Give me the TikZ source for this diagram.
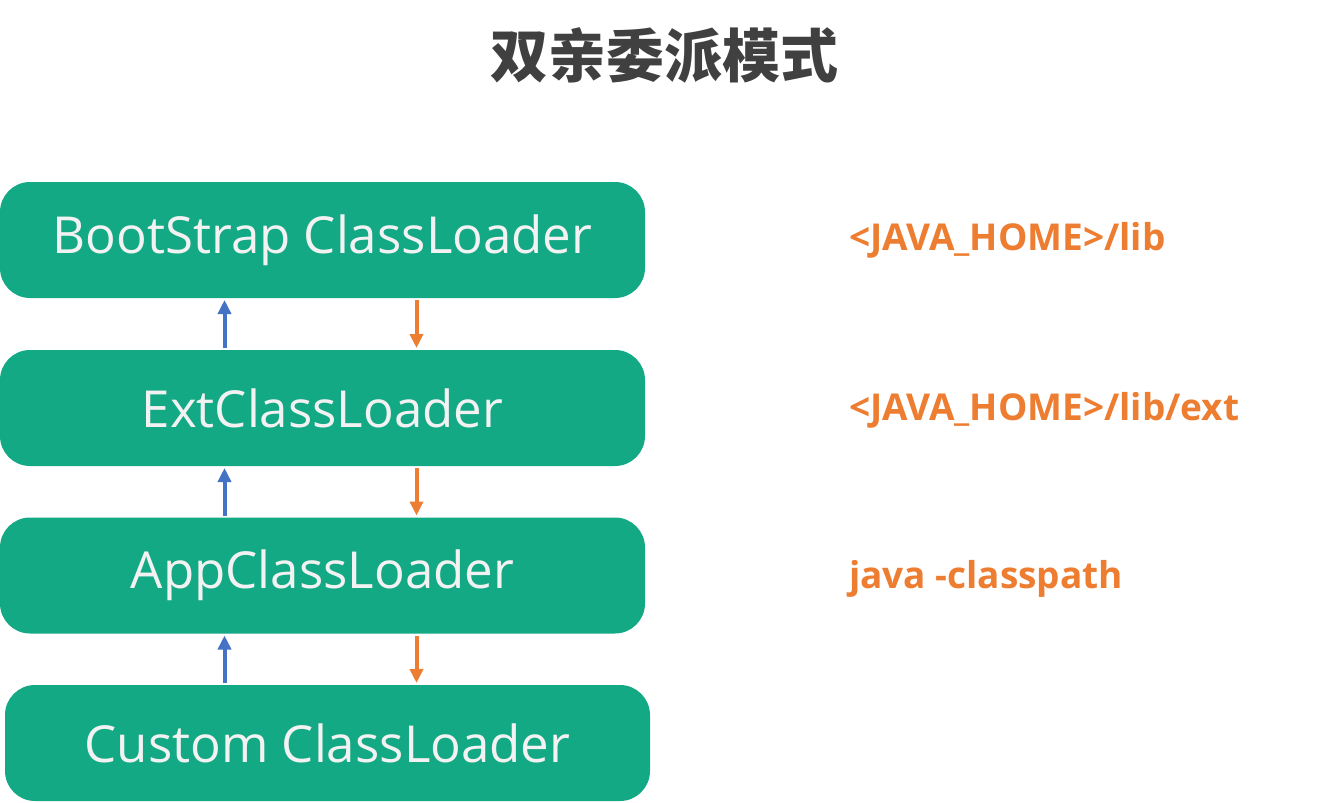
\documentclass[tikz,border=0pt]{standalone}
\usepackage{fontspec}
\setmainfont{Open Sans}
\newfontfamily\cjk{Noto Sans CJK SC}
\usetikzlibrary{arrows.meta,shapes}
\definecolor{loadergreen}{HTML}{14A985}
\definecolor{pathorange}{HTML}{ED7D31}
\definecolor{upblue}{HTML}{4472C4}
\definecolor{titlegray}{HTML}{404040}

\begin{document}
\begin{tikzpicture}[x=1pt,y=-1pt,line width=4pt]
  \tikzstyle{loader}=[rectangle,rounded corners=30pt,fill=loadergreen,text=white!95!black,
    minimum width=645pt,minimum height=116pt,inner sep=0pt,font=\fontsize{51}{60}\selectfont]
  \tikzstyle{path}=[text=pathorange,anchor=west,inner sep=0pt,font=\fontsize{37}{44}\selectfont\bfseries]
  \tikzstyle{up}=[draw=upblue,-{Triangle[width=13pt,length=14pt]}]
  \tikzstyle{down}=[draw=pathorange,-{Triangle[width=13pt,length=14pt]}]
  \useasboundingbox (0,0) rectangle (1334,803);
  \node(title) at (664,55)[font=\cjk\bfseries\fontsize{58}{64}\selectfont,text=titlegray]{双亲委派模式};
  \node(boot) at (322.5,240)[loader]{BootStrap ClassLoader};
  \node(ext) at (322.5,408)[loader]{ExtClassLoader};
  \node(app) at (322.5,575.5)[loader]{AppClassLoader};
  \node(custom) at (327.5,743)[loader]{Custom ClassLoader};
  \node(boot-path) at (847,240)[path]{<JAVA\_HOME>/lib};
  \node(ext-path) at (847,410)[path]{<JAVA\_HOME>/lib/ext};
  \node(app-path) at (847,579)[path]{java -classpath};
  \draw[up]([xshift=-98pt]ext.north)--([xshift=-98pt]boot.south);
  \draw[down]([xshift=94pt]boot.south)--([xshift=94pt]ext.north);
  \draw[up]([xshift=-98pt]app.north)--([xshift=-98pt]ext.south);
  \draw[down]([xshift=94pt]ext.south)--([xshift=94pt]app.north);
  \draw[up]([xshift=-98pt]app.south|-custom.north)--([xshift=-98pt]app.south);
  \draw[down]([xshift=94pt]app.south)--([xshift=94pt]app.south|-custom.north);
\end{tikzpicture}
\end{document}
